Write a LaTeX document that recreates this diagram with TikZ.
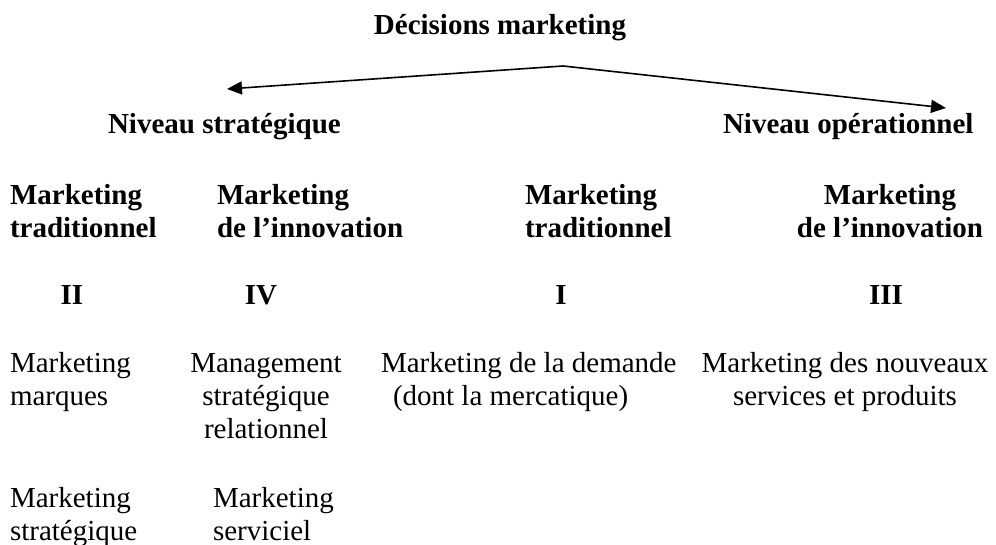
\documentclass[tikz,border=0pt]{standalone}
\usepackage{fontspec}
\setmainfont{Liberation Serif}
\usetikzlibrary{arrows.meta}
\begin{document}
\begin{tikzpicture}[x=1pt,y=-1pt,
  txt/.style={inner sep=0pt, outer sep=0pt, font=\fontsize{29}{33}\selectfont},
  hd/.style={inner sep=0pt, outer sep=0pt, font=\fontsize{29}{33}\selectfont\bfseries},
  arr/.style={line width=1.6pt, -{Triangle[length=15pt,width=13pt]}}]
\useasboundingbox (0,0) rectangle (996,545);
% title and levels
\node[hd, anchor=base] (title) at (500,35) {Décisions marketing};
\coordinate (apex) at (563,66);
\coordinate (ltip) at (227,89);
\coordinate (rtip) at (946,108);
\draw[arr] (apex) -- (ltip);
\draw[arr] (apex) -- (rtip);
\node[hd, anchor=base west] (strat) at (108,134) {Niveau stratégique};
\node[hd, anchor=base west] (oper) at (723,134) {Niveau opérationnel};
% column headers (anchor = baseline of last line)
\node[hd, anchor=base west, align=left] (h1) at (10,238) {Marketing\\traditionnel};
\node[hd, anchor=base west, align=left] (h2) at (217,238) {Marketing\\de l’innovation};
\node[hd, anchor=base west, align=left] (h3) at (525,238) {Marketing\\traditionnel};
\node[hd, anchor=base, align=center] (h4) at (890,238) {Marketing\\de l’innovation};
% numerals
\node[hd, anchor=base] (n2) at (72,305) {II};
\node[hd, anchor=base] (n4) at (261,305) {IV};
\node[hd, anchor=base] (n1) at (561,305) {I};
\node[hd, anchor=base] (n3) at (886,305) {III};
% body
\node[txt, anchor=base west, align=left] (b1) at (10,405) {Marketing\\marques};
\node[txt, anchor=base, align=center] (b2) at (266,438) {Management\\stratégique\\relationnel};
\node[txt, anchor=base west, align=left] (b3) at (381,405) {Marketing de la demande\\\hspace*{12pt}(dont la mercatique)};
\node[txt, anchor=base, align=center] (b4) at (845,405) {Marketing des nouveaux\\services et produits};
% bottom
\node[txt, anchor=base west, align=left] (c1) at (10,540) {Marketing\\stratégique};
\node[txt, anchor=base west, align=left] (c2) at (213,540) {Marketing\\serviciel};
\end{tikzpicture}
\end{document}
